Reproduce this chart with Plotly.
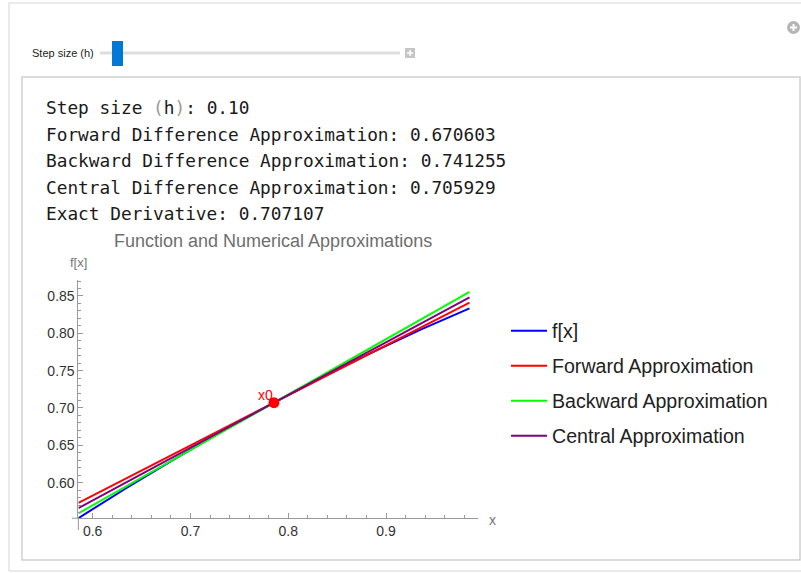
import plotly.graph_objects as go

W, H = 801, 573

# ---------------- data ----------------
x_curve = [0.5854, 0.6354, 0.6854, 0.7354, 0.7854, 0.8354, 0.8854, 0.9354, 0.9854]
f_vals = [0.55253, 0.59350, 0.63298, 0.67088, 0.70711, 0.74157, 0.77417, 0.80484, 0.83349]
x_ends = [0.5854, 0.9854]
forward_vals = [0.57299, 0.84123]
backward_vals = [0.55886, 0.85536]
central_vals = [0.56592, 0.84829]
x0_point = [0.7854]
y0_point = [0.70711]
series_names = ["f[x]", "Forward Approximation", "Backward Approximation", "Central Approximation"]
series_colors = ["#0000ff", "#ff0000", "#00ff00", "#800080"]
x_tick_vals = [0.6, 0.7, 0.8, 0.9]
x_tick_text = ["0.6", "0.7", "0.8", "0.9"]
y_tick_vals = [0.60, 0.65, 0.70, 0.75, 0.80, 0.85]
y_tick_text = ["0.60", "0.65", "0.70", "0.75", "0.80", "0.85"]
info_lines = [
    "Step size <span style='color:#9a9a9a'>(</span>h<span style='color:#9a9a9a'>)</span>: 0.10",
    "Forward Difference Approximation: 0.670603",
    "Backward Difference Approximation: 0.741255",
    "Central Difference Approximation: 0.705929",
    "Exact Derivative: 0.707107",
]

# ---------------- helpers (pixel -> paper) ----------------
def px(x):
    return x / W

def py(y):
    return (H - y) / H

# plot area in pixels
PL, PR, PT, PB = 78.4, 477.5, 280.0, 518.2
XS, YS = 977.8, 746.7  # pixels per unit
xr = [0.5854, 0.5854 + (PR - PL) / XS]
yr = [0.5524, 0.5524 + (PB - PT) / YS]

fig = go.Figure()
ys = [f_vals, forward_vals, backward_vals, central_vals]
xs = [x_curve, x_ends, x_ends, x_ends]
for i in range(4):
    fig.add_trace(go.Scatter(
        x=xs[i], y=ys[i], mode="lines", name=series_names[i],
        line=dict(color=series_colors[i], width=2),
        legendgroup=str(i),
    ))
fig.add_trace(go.Scatter(
    x=x0_point, y=y0_point, mode="markers", showlegend=False,
    marker=dict(color="#ff0000", size=11),
))

axis_gray = "#9a9a9a"
fig.update_layout(
    width=W, height=H,
    margin=dict(l=0, r=0, t=0, b=0),
    paper_bgcolor="white", plot_bgcolor="white",
    showlegend=True,
    legend=dict(
        x=px(506), y=py(383.5), xanchor="left", yanchor="middle",
        font=dict(family="Liberation Sans, Arial", size=19.6, color="#222222"),
        bgcolor="rgba(0,0,0,0)", tracegroupgap=6.5, itemwidth=36,
    ),
    xaxis=dict(
        domain=[px(PL), px(PR)], range=xr, automargin=False,
        showline=True, linecolor=axis_gray, linewidth=1,
        showgrid=False, zeroline=False,
        tickmode="array", tickvals=x_tick_vals, ticktext=x_tick_text,
        ticks="inside", ticklen=5, tickcolor=axis_gray,
        minor=dict(tickmode="linear", tick0=0.6, dtick=0.02, ticks="inside",
                   ticklen=3, tickcolor=axis_gray),
        tickfont=dict(family="Liberation Sans, Arial", size=14, color="#333333"),
    ),
    yaxis=dict(
        domain=[py(PB), py(PT)], range=yr, automargin=False,
        showline=True, linecolor=axis_gray, linewidth=1,
        showgrid=False, zeroline=False,
        tickmode="array", tickvals=y_tick_vals, ticktext=y_tick_text,
        ticks="inside", ticklen=5, tickcolor=axis_gray,
        minor=dict(tickmode="linear", tick0=0.6, dtick=0.01, ticks="inside",
                   ticklen=3, tickcolor=axis_gray),
        tickfont=dict(family="Liberation Sans, Arial", size=14, color="#333333"),
    ),
)

shapes = []
# outer and inner panel frames
shapes.append(dict(type="rect", xref="paper", yref="paper", x0=px(9), x1=px(803), y0=py(571), y1=py(3),
                   line=dict(color="#d6d6d6", width=1)))
shapes.append(dict(type="rect", xref="paper", yref="paper", x0=px(22), x1=px(800), y0=py(560), y1=py(77),
                   line=dict(color="#cfcfcf", width=1.5)))
# axis overhangs
shapes.append(dict(type="line", xref="paper", yref="paper", x0=px(PL), x1=px(PL), y0=py(PB), y1=py(530),
                   line=dict(color=axis_gray, width=1)))
shapes.append(dict(type="line", xref="paper", yref="paper", x0=px(72), x1=px(PL), y0=py(PB), y1=py(PB),
                   line=dict(color=axis_gray, width=1)))
# slider track
shapes.append(dict(type="line", xref="paper", yref="paper", x0=px(100), x1=px(400), y0=py(53), y1=py(53),
                   line=dict(color="#dddddd", width=3)))
# slider thumb
shapes.append(dict(type="rect", xref="paper", yref="paper", x0=px(112), x1=px(123), y0=py(66), y1=py(41),
                   fillcolor="#0078d7", line=dict(width=0)))
# plus box
shapes.append(dict(type="rect", xref="paper", yref="paper", x0=px(405), x1=px(415), y0=py(58), y1=py(48),
                   fillcolor="#c6c6c6", line=dict(width=0)))
shapes.append(dict(type="line", xref="paper", yref="paper", x0=px(407), x1=px(413), y0=py(53), y1=py(53),
                   line=dict(color="white", width=1.5)))
shapes.append(dict(type="line", xref="paper", yref="paper", x0=px(410), x1=px(410), y0=py(50), y1=py(56),
                   line=dict(color="white", width=1.5)))
# top-right circle plus
shapes.append(dict(type="circle", xref="paper", yref="paper", x0=px(787), x1=px(800), y0=py(34), y1=py(21),
                   fillcolor="#b5b5b5", line=dict(width=0)))
shapes.append(dict(type="line", xref="paper", yref="paper", x0=px(790), x1=px(797), y0=py(27.5), y1=py(27.5),
                   line=dict(color="white", width=2)))
shapes.append(dict(type="line", xref="paper", yref="paper", x0=px(793.5), x1=px(793.5), y0=py(24), y1=py(31),
                   line=dict(color="white", width=2)))
fig.update_layout(shapes=shapes)

ann = []
ann.append(dict(xref="paper", yref="paper", x=px(30), y=py(52.5), xanchor="left", yanchor="middle",
                text="Step size (h)", showarrow=False,
                font=dict(family="Liberation Sans, Arial", size=11, color="#222222")))
line_y = [108, 134, 160, 187, 213]
for t, yy in zip(info_lines, line_y):
    ann.append(dict(xref="paper", yref="paper", x=px(44), y=py(yy), xanchor="left", yanchor="middle",
                    text=t, showarrow=False,
                    font=dict(family="DejaVu Sans Mono, monospace", size=17.8, color="#1a1a1a")))
ann.append(dict(xref="paper", yref="paper", x=px(273), y=py(241), xanchor="center", yanchor="middle",
                text="Function and Numerical Approximations", showarrow=False,
                font=dict(family="Liberation Sans, Arial", size=18, color="#6e6e6e")))
ann.append(dict(xref="paper", yref="paper", x=px(78), y=py(263), xanchor="center", yanchor="middle",
                text="f[x]", showarrow=False,
                font=dict(family="Liberation Sans, Arial", size=13, color="#777777")))
ann.append(dict(xref="paper", yref="paper", x=px(493), y=py(520), xanchor="center", yanchor="middle",
                text="x", showarrow=False,
                font=dict(family="Liberation Sans, Arial", size=14, color="#777777")))
ann.append(dict(xref="x", yref="y", x=x0_point[0], y=y0_point[0], xanchor="right", yanchor="middle",
                xshift=1, yshift=8, text="x0", showarrow=False,
                font=dict(family="Liberation Sans, Arial", size=14, color="#ff0000")))
fig.update_layout(annotations=ann)

fig.write_html("out.html", config={"displayModeBar": False},
               post_script="document.body.style.margin='0px';")
